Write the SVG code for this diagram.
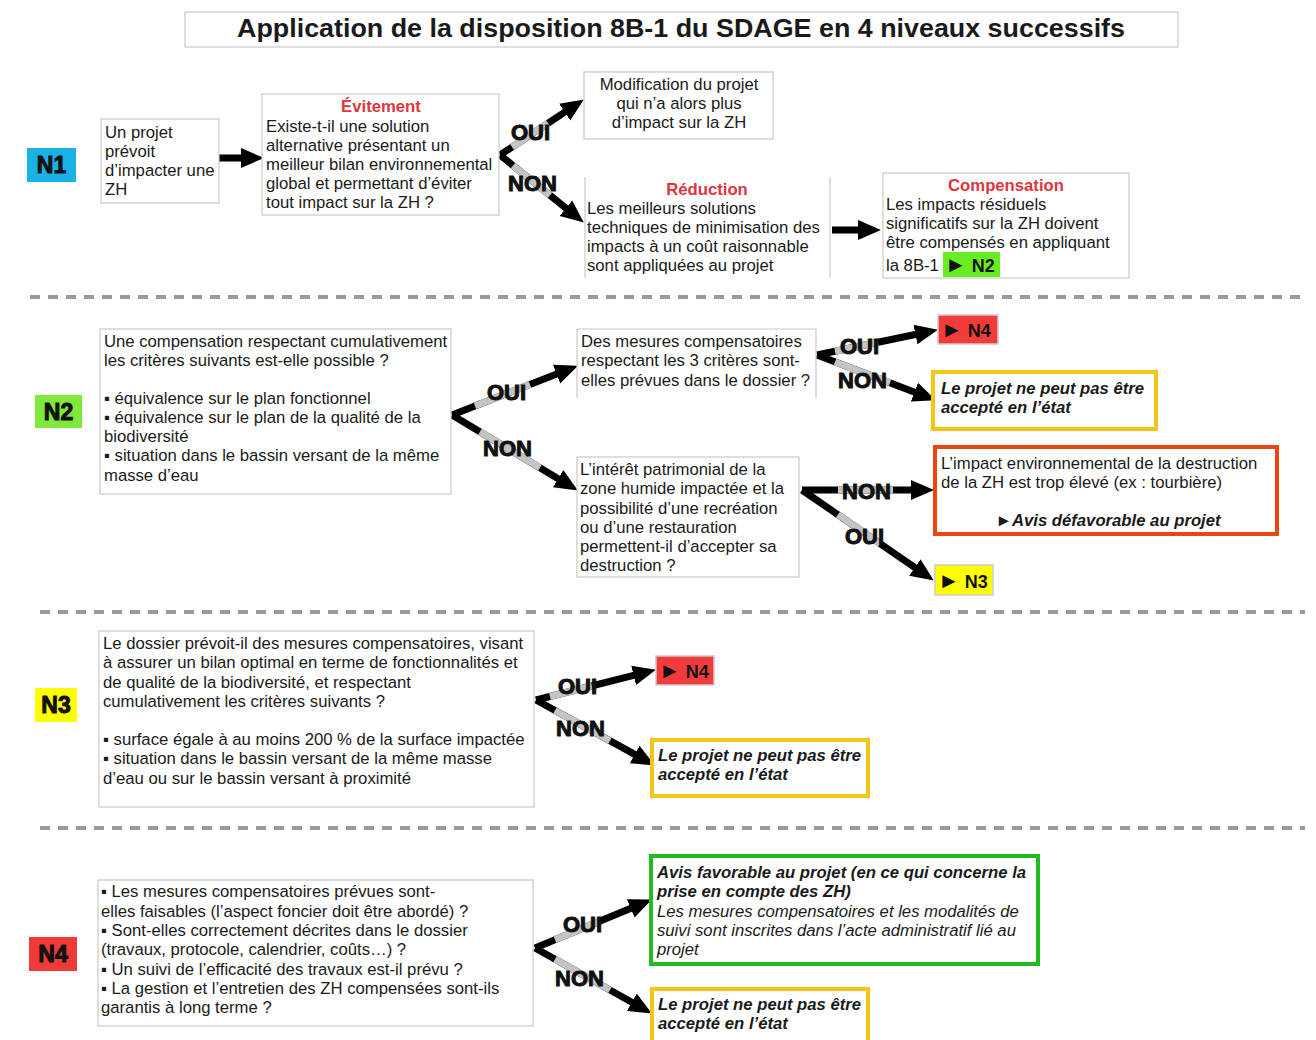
<svg xmlns="http://www.w3.org/2000/svg" width="1316" height="1040" viewBox="0 0 1316 1040">
<defs>
<style>
text{font-family:"Liberation Sans",Arial,sans-serif;fill:#1a1a1a}
.t{font-size:16.7px}
.c{text-anchor:middle}
.red{fill:#e0353d;font-weight:bold}
.bi{font-weight:bold;font-style:italic}
.it{font-style:italic}
.box{fill:#fff;stroke:#c8c8c8;stroke-width:1.2}
.badge{font-size:23px;font-weight:bold;text-anchor:middle;fill:#111;stroke:#111;stroke-width:1}
.tg{font-size:18px;font-weight:bold;fill:#111}
.tri{font-size:22px}
.lbl{font-size:22px;font-weight:bold;fill:#111;stroke:#111;stroke-width:1}
.sep{stroke:#9a9a9a;stroke-width:4;stroke-dasharray:10 8;fill:none}
.ar{stroke:#000;stroke-width:7;fill:none;marker-end:url(#ah)}
.gr{stroke:#c4c4c4;stroke-width:7;fill:none}
</style>
<marker id="ah" markerUnits="userSpaceOnUse" markerWidth="24" markerHeight="22" viewBox="0 -11 24 22" refX="1" refY="0" orient="auto"><path d="M0,-10 L23,0 L0,10 z" fill="#000"/></marker>
</defs>
<rect width="1316" height="1040" fill="#fff"/>

<g id="title">
<rect x="185" y="12" width="993" height="35" class="box" stroke="#999"/>
<text x="681" y="37" class="c" font-size="25" font-weight="bold" textLength="888" lengthAdjust="spacingAndGlyphs">Application de la disposition 8B-1 du SDAGE en 4 niveaux successifs</text>
</g>

<g id="separators">
<line x1="30" y1="297" x2="1305" y2="297" class="sep"/>
<line x1="40" y1="612" x2="1305" y2="612" class="sep"/>
<line x1="40" y1="828" x2="1305" y2="828" class="sep"/>
</g>

<g id="badges">
<g id="badge-n1"><rect x="27" y="148" width="49" height="34" fill="#19b2e6"/><text x="51.5" y="173" class="badge">N1</text></g>
<g id="badge-n2"><rect x="35" y="395" width="47" height="33" fill="#80e83a"/><text x="58.5" y="420" class="badge">N2</text></g>
<g id="badge-n3"><rect x="35" y="688" width="42" height="34" fill="#ffff00"/><text x="56" y="713" class="badge">N3</text></g>
<g id="badge-n4"><rect x="29" y="937" width="48" height="34" fill="#f03a3a"/><text x="53" y="962" class="badge">N4</text></g>
</g>

<g id="connectors">
<line x1="219" y1="158" x2="242" y2="158" class="ar"/>
<line x1="832" y1="230" x2="859" y2="230" class="ar"/>
<line x1="500" y1="155" x2="565.5" y2="111.6" class="ar"/>
<line x1="512" y1="147" x2="548" y2="123" class="gr"/>
<line x1="500" y1="155" x2="566.7" y2="208.8" class="ar"/>
<line x1="513" y1="165.5" x2="550" y2="195.4" class="gr"/>
<line x1="452" y1="415" x2="557.5" y2="373.7" class="ar"/>
<line x1="475" y1="406" x2="530" y2="384.4" class="gr"/>
<line x1="452" y1="415" x2="559" y2="479.2" class="ar"/>
<line x1="480" y1="431.8" x2="540" y2="467.8" class="gr"/>
<line x1="817" y1="355" x2="916.4" y2="334.3" class="ar"/>
<line x1="835" y1="351.2" x2="878" y2="342.3" class="gr"/>
<line x1="817" y1="355" x2="915.4" y2="392.5" class="ar"/>
<line x1="835" y1="361.9" x2="890" y2="382.8" class="gr"/>
<line x1="802" y1="490" x2="912" y2="490" class="ar"/>
<line x1="838" y1="490" x2="893" y2="490" class="gr"/>
<line x1="802" y1="490" x2="915.7" y2="568.1" class="ar"/>
<line x1="838" y1="514.7" x2="880" y2="543.6" class="gr"/>
<line x1="536" y1="700" x2="634.6" y2="675.1" class="ar"/>
<line x1="550" y1="696.5" x2="592" y2="685.9" class="gr"/>
<line x1="536" y1="700" x2="635.6" y2="754.9" class="ar"/>
<line x1="555" y1="710.5" x2="610" y2="740.8" class="gr"/>
<line x1="535" y1="948" x2="631.6" y2="908" class="ar"/>
<line x1="555" y1="939.7" x2="600" y2="921.1" class="gr"/>
<line x1="535" y1="948" x2="632.7" y2="1002.7" class="ar"/>
<line x1="555" y1="959.2" x2="610" y2="990" class="gr"/>
<text x="511" y="140" class="lbl">OUI</text>
<text x="508" y="191" class="lbl">NON</text>
<text x="487" y="400" class="lbl">OUI</text>
<text x="483" y="456" class="lbl">NON</text>
<text x="840" y="354" class="lbl">OUI</text>
<text x="838" y="388" class="lbl">NON</text>
<text x="842" y="499" class="lbl">NON</text>
<text x="845" y="544" class="lbl">OUI</text>
<text x="558" y="694" class="lbl">OUI</text>
<text x="556" y="736" class="lbl">NON</text>
<text x="563" y="932" class="lbl">OUI</text>
<text x="555" y="986" class="lbl">NON</text>
</g>

<g id="n1-projet">
<rect x="101" y="119" width="118" height="84" class="box"/>
<text class="t" x="105"><tspan y="138">Un projet</tspan><tspan x="105" y="157">prévoit</tspan><tspan x="105" y="176">d’impacter une</tspan><tspan x="105" y="195">ZH</tspan></text>
</g>

<g id="n1-evitement">
<rect x="262" y="94" width="237" height="121" class="box"/>
<text x="381" y="112" class="t c red">Évitement</text>
<text class="t" x="266"><tspan y="132">Existe-t-il une solution</tspan><tspan x="266" y="151">alternative présentant un</tspan><tspan x="266" y="170">meilleur bilan environnemental</tspan><tspan x="266" y="189">global et permettant d’éviter</tspan><tspan x="266" y="208">tout impact sur la ZH ?</tspan></text>
</g>

<g id="n1-modification">
<rect x="584" y="72" width="189" height="67" class="box"/>
<text class="t c" x="679"><tspan y="90">Modification du projet</tspan><tspan x="679" y="109">qui n’a alors plus</tspan><tspan x="679" y="128">d’impact sur la ZH</tspan></text>
</g>

<g id="n1-reduction">
<line x1="585" y1="177" x2="585" y2="278" stroke="#c8c8c8" stroke-width="1.2"/>
<line x1="830" y1="177" x2="830" y2="278" stroke="#c8c8c8" stroke-width="1.2"/>
<text x="707" y="195" class="t c red">Réduction</text>
<text class="t" x="587"><tspan y="214">Les meilleurs solutions</tspan><tspan x="587" y="233">techniques de minimisation des</tspan><tspan x="587" y="252">impacts à un coût raisonnable</tspan><tspan x="587" y="271">sont appliquées au projet</tspan></text>
</g>

<g id="n1-compensation">
<rect x="883" y="173" width="246" height="105" class="box" stroke="#999"/>
<text x="1006" y="191" class="t c red">Compensation</text>
<rect x="943" y="252" width="57" height="25" fill="#66ee22"/>
<text class="t" x="886"><tspan y="210">Les impacts résiduels</tspan><tspan x="886" y="229">significatifs sur la ZH doivent</tspan><tspan x="886" y="248">être compensés en appliquant</tspan><tspan x="886" y="271">la 8B-1</tspan></text>
<text x="945" y="272" class="tg"><tspan class="tri">►</tspan> N2</text>
</g>

<g id="n2-question">
<rect x="100" y="329" width="351" height="165" class="box"/>
<text class="t" x="104"><tspan y="347">Une compensation respectant cumulativement</tspan><tspan x="104" y="366">les critères suivants est-elle possible ?</tspan><tspan x="104" y="404">▪ équivalence sur le plan fonctionnel</tspan><tspan x="104" y="423">▪ équivalence sur le plan de la qualité de la</tspan><tspan x="104" y="442">biodiversité</tspan><tspan x="104" y="461">▪ situation dans le bassin versant de la même</tspan><tspan x="104" y="481">masse d’eau</tspan></text>
</g>

<g id="n2-mesures">
<path d="M577,398 V329 H816 V398" fill="#fff" stroke="#c8c8c8" stroke-width="1.2"/>
<text class="t" x="581"><tspan y="347">Des mesures compensatoires</tspan><tspan x="581" y="366">respectant les 3 critères sont-</tspan><tspan x="581" y="386">elles prévues dans le dossier ?</tspan></text>
</g>

<g id="n2-to-n4">
<rect x="938" y="315" width="60" height="29" fill="#f23c3c" stroke="#ccc" stroke-width="1.5"/>
<text x="941" y="337" class="tg"><tspan class="tri">►</tspan> N4</text>
</g>

<g id="n2-refus">
<rect x="933" y="372" width="223" height="57" fill="#fff" stroke="#f5c518" stroke-width="4"/>
<text class="t bi" x="941"><tspan y="394">Le projet ne peut pas être</tspan><tspan x="941" y="413">accepté en l’état</tspan></text>
</g>

<g id="n2-interet">
<rect x="577" y="457" width="222" height="120" class="box"/>
<text class="t" x="580"><tspan y="475">L’intérêt patrimonial de la</tspan><tspan x="580" y="494">zone humide impactée et la</tspan><tspan x="580" y="514">possibilité d’une recréation</tspan><tspan x="580" y="533">ou d’une restauration</tspan><tspan x="580" y="552">permettent-il d’accepter sa</tspan><tspan x="580" y="571">destruction ?</tspan></text>
</g>

<g id="n2-defavorable">
<rect x="935" y="447" width="342" height="87" fill="#fff" stroke="#ee4411" stroke-width="4"/>
<text class="t" x="941"><tspan y="469">L’impact environnemental de la destruction</tspan><tspan x="941" y="488">de la ZH est trop élevé (ex : tourbière)</tspan></text>
<text x="1108" y="526" class="t c bi">►Avis défavorable au projet</text>
</g>

<g id="n2-to-n3">
<rect x="935" y="565" width="58" height="30" fill="#ffff00" stroke="#ccc" stroke-width="1.5"/>
<text x="938" y="588" class="tg"><tspan class="tri">►</tspan> N3</text>
</g>

<g id="n3-question">
<rect x="99" y="631" width="435" height="176" class="box"/>
<text class="t" x="103"><tspan y="649">Le dossier prévoit-il des mesures compensatoires, visant</tspan><tspan x="103" y="668">à assurer un bilan optimal en terme de fonctionnalités et</tspan><tspan x="103" y="688">de qualité de la biodiversité, et respectant</tspan><tspan x="103" y="707">cumulativement les critères suivants ?</tspan><tspan x="103" y="745">▪ surface égale à au moins 200 % de la surface impactée</tspan><tspan x="103" y="764">▪ situation dans le bassin versant de la même masse</tspan><tspan x="103" y="784">d’eau ou sur le bassin versant à proximité</tspan></text>
</g>

<g id="n3-to-n4">
<rect x="656" y="656" width="58" height="29" fill="#f23c3c" stroke="#ccc" stroke-width="1.5"/>
<text x="659" y="678" class="tg"><tspan class="tri">►</tspan> N4</text>
</g>

<g id="n3-refus">
<rect x="652" y="740" width="216" height="56" fill="#fff" stroke="#f5c518" stroke-width="4"/>
<text class="t bi" x="658"><tspan y="761">Le projet ne peut pas être</tspan><tspan x="658" y="780">accepté en l’état</tspan></text>
</g>

<g id="n4-question">
<rect x="98" y="880" width="435" height="146" class="box"/>
<text class="t" x="101"><tspan y="897">▪ Les mesures compensatoires prévues sont-</tspan><tspan x="101" y="917">elles faisables (l’aspect foncier doit être abordé) ?</tspan><tspan x="101" y="936">▪ Sont-elles correctement décrites dans le dossier</tspan><tspan x="101" y="955">(travaux, protocole, calendrier, coûts…) ?</tspan><tspan x="101" y="975">▪ Un suivi de l’efficacité des travaux est-il prévu ?</tspan><tspan x="101" y="994">▪ La gestion et l’entretien des ZH compensées sont-ils</tspan><tspan x="101" y="1013">garantis à long terme ?</tspan></text>
</g>

<g id="n4-favorable">
<rect x="651" y="856" width="387" height="108" fill="#fff" stroke="#22bb22" stroke-width="4"/>
<text class="t bi" x="657"><tspan y="878">Avis favorable au projet (en ce qui concerne la</tspan><tspan x="657" y="897">prise en compte des ZH)</tspan></text>
<text class="t it" x="657"><tspan y="917">Les mesures compensatoires et les modalités de</tspan><tspan x="657" y="936">suivi sont inscrites dans l’acte administratif lié au</tspan><tspan x="657" y="955">projet</tspan></text>
</g>

<g id="n4-refus">
<rect x="652" y="989" width="216" height="62" fill="#fff" stroke="#f5c518" stroke-width="4"/>
<text class="t bi" x="658"><tspan y="1010">Le projet ne peut pas être</tspan><tspan x="658" y="1029">accepté en l’état</tspan></text>
</g>
</svg>
